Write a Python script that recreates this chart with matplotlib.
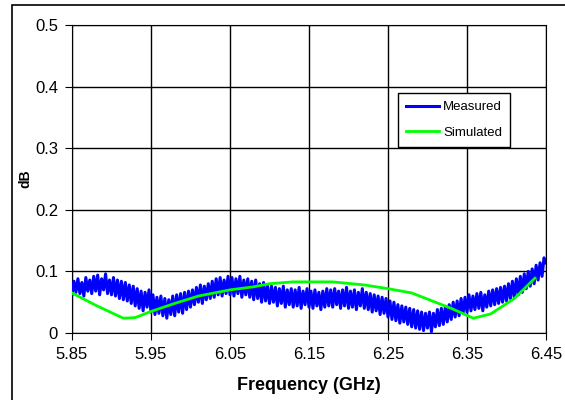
import numpy as np
import matplotlib.pyplot as plt
from matplotlib.patches import Rectangle

plt.rcParams['font.family'] = ['Liberation Sans', 'DejaVu Sans']

# measured: 0.0025 GHz steps from 5.85 to 6.45
freq_meas = np.linspace(5.85, 6.45, 241)
measured = [
    0.062, 0.084, 0.066, 0.088, 0.064, 0.082, 0.060, 0.090, 0.068, 0.086,
    0.064, 0.092, 0.068, 0.094, 0.062, 0.088, 0.070, 0.096, 0.064, 0.086,
    0.062, 0.090, 0.060, 0.086, 0.056, 0.084, 0.054, 0.082, 0.052, 0.078,
    0.048, 0.076, 0.044, 0.072, 0.040, 0.068, 0.036, 0.066, 0.042, 0.070,
    0.034, 0.062, 0.030, 0.058, 0.032, 0.060, 0.028, 0.056, 0.024, 0.054,
    0.030, 0.060, 0.028, 0.062, 0.034, 0.064, 0.032, 0.066, 0.038, 0.068,
    0.042, 0.070, 0.046, 0.074, 0.050, 0.078, 0.048, 0.076, 0.054, 0.080,
    0.056, 0.084, 0.058, 0.088, 0.062, 0.090, 0.060, 0.086, 0.064, 0.092,
    0.062, 0.090, 0.060, 0.088, 0.064, 0.092, 0.058, 0.086, 0.062, 0.088,
    0.058, 0.084, 0.054, 0.086, 0.056, 0.080, 0.050, 0.082, 0.052, 0.076,
    0.048, 0.076, 0.050, 0.074, 0.044, 0.072, 0.048, 0.076, 0.042, 0.070,
    0.046, 0.072, 0.042, 0.070, 0.044, 0.074, 0.040, 0.068, 0.046, 0.072,
    0.042, 0.068, 0.040, 0.070, 0.044, 0.066, 0.038, 0.068, 0.042, 0.072,
    0.044, 0.070, 0.042, 0.072, 0.046, 0.068, 0.040, 0.070, 0.044, 0.074,
    0.040, 0.068, 0.042, 0.070, 0.038, 0.066, 0.044, 0.072, 0.040, 0.066,
    0.038, 0.064, 0.034, 0.062, 0.036, 0.060, 0.030, 0.058, 0.032, 0.056,
    0.026, 0.052, 0.022, 0.050, 0.020, 0.046, 0.016, 0.044, 0.018, 0.042,
    0.014, 0.040, 0.010, 0.038, 0.008, 0.036, 0.006, 0.034, 0.004, 0.032,
    0.008, 0.034, 0.002, 0.032, 0.010, 0.038, 0.012, 0.040, 0.014, 0.042,
    0.018, 0.046, 0.022, 0.050, 0.026, 0.052, 0.028, 0.056, 0.032, 0.058,
    0.034, 0.062, 0.036, 0.060, 0.038, 0.064, 0.040, 0.066, 0.036, 0.062,
    0.042, 0.068, 0.044, 0.070, 0.046, 0.072, 0.048, 0.074, 0.050, 0.076,
    0.052, 0.080, 0.056, 0.084, 0.058, 0.088, 0.062, 0.092, 0.066, 0.096,
    0.072, 0.100, 0.076, 0.104, 0.080, 0.110, 0.086, 0.114, 0.092, 0.122,
    0.114,
]

freq_sim = [5.85, 5.88, 5.915, 5.93, 5.95, 5.98, 6.01, 6.05, 6.08, 6.10, 6.13,
            6.18, 6.22, 6.25, 6.28, 6.30, 6.33, 6.358, 6.38, 6.41, 6.436]
simulated = [0.065, 0.045, 0.024, 0.025, 0.035, 0.048, 0.060, 0.070, 0.075, 0.080,
             0.083, 0.083, 0.078, 0.072, 0.065, 0.055, 0.040, 0.024, 0.031, 0.056, 0.089]

xticks = [5.85, 5.95, 6.05, 6.15, 6.25, 6.35, 6.45]
yticks = [0, 0.1, 0.2, 0.3, 0.4, 0.5]

fig = plt.figure(figsize=(5.65, 4.0), dpi=100)
ax = fig.add_axes([72/565, 67/400, 474/565, 308/400])

ax.plot(freq_meas, measured, color="#0000ff", lw=2.2, label="Measured", zorder=3)
ax.plot(freq_sim, simulated, color="#00ff00", lw=2, label="Simulated", zorder=4)

ax.set_xlim(5.85, 6.45)
ax.set_ylim(0, 0.5)
ax.set_xticks(xticks)
ax.set_xticklabels(["%.2f" % x for x in xticks])
ax.set_yticks(yticks)
ax.set_yticklabels(["0", "0.1", "0.2", "0.3", "0.4", "0.5"])
ax.tick_params(direction="out", length=5, labelsize=12, pad=5)
ax.grid(True, color="black", lw=1)
for s in ax.spines.values():
    s.set_color("black")

ax.set_xlabel("Frequency (GHz)", fontsize=13, fontweight="bold", labelpad=11)
ax.set_ylabel("dB", fontsize=10, fontweight="bold", labelpad=2)

leg = ax.legend(loc="upper left", bbox_to_anchor=(0.688, 0.779), fontsize=9.5,
                fancybox=False, framealpha=1, edgecolor="black", handlelength=2.5,
                handletextpad=0.3, labelspacing=1.0, borderpad=0.6, borderaxespad=0)
leg.get_frame().set_linewidth(1)

fig.patches.append(Rectangle((12/565, -0.05), 1.0, 1.05 - 5/400, transform=fig.transFigure,
                             fill=False, edgecolor="black", lw=1.2))

fig.savefig("out.png", dpi=100)
